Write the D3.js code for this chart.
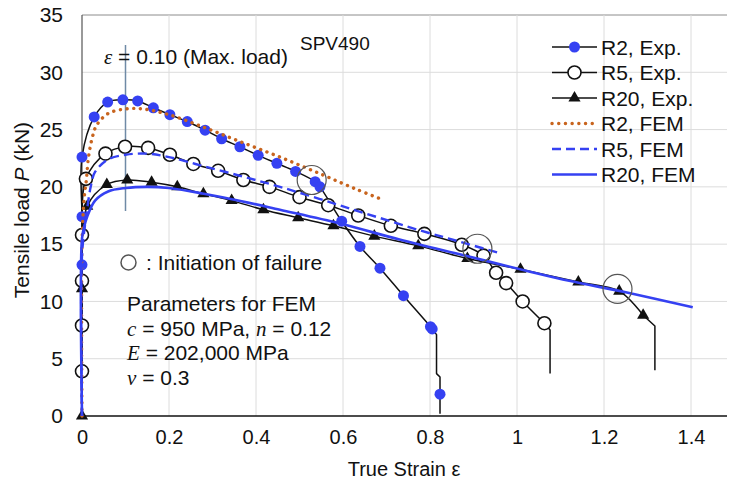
<!DOCTYPE html>
<html><head><meta charset="utf-8">
<script src="https://cdn.jsdelivr.net/npm/d3@7"></script>
<style>
html,body{margin:0;padding:0;background:#fff;}
svg text{font-family:"Liberation Sans",Arial,sans-serif;fill:#111;}
.it{font-family:"Liberation Serif","DejaVu Serif",serif;font-style:italic;}
</style></head>
<body>
<svg id="c" width="729" height="484"></svg>
<script>
// ---------- data ----------
const xTicks = [0, 0.2, 0.4, 0.6, 0.8, 1, 1.2, 1.4];
const yTicks = [0, 5, 10, 15, 20, 25, 30, 35];
const seriesNames = ["R2, Exp.", "R5, Exp.", "R20, Exp.", "R2, FEM", "R5, FEM", "R20, FEM"];

// experimental markers [strain, load]
const r2ExpMarks = [[0,13.2],[0,17.4],[0,22.6],[0.028,26.1],[0.059,27.4],[0.094,27.6],[0.128,27.5],[0.164,26.9],[0.202,26.3],[0.242,25.7],[0.283,24.95],[0.321,24.2],[0.363,23.5],[0.405,22.75],[0.448,22.05],[0.491,21.35],[0.536,20.45],[0.547,20.0],[0.597,17.0],[0.639,14.8],[0.685,12.9],[0.739,10.5],[0.801,7.8],[0.805,7.6],[0.823,1.9]];
const r2ExpHead = [[0,0]];
const r2ExpTail = [[0.805,7.6],[0.815,7.1],[0.815,3.7],[0.823,3.4],[0.823,0.2]];

const r5ExpMarks = [[0,3.9],[0,7.9],[0,11.8],[0,15.8],[0.009,20.7],[0.054,22.9],[0.099,23.5],[0.152,23.4],[0.202,22.8],[0.256,22.0],[0.313,21.4],[0.371,20.6],[0.431,20.0],[0.50,19.1],[0.566,18.4],[0.635,17.5],[0.71,16.6],[0.787,15.9],[0.873,14.95],[0.923,14.0],[0.952,12.5],[0.975,11.6],[1.013,10.0],[1.063,8.1]];
const r5ExpHead = [[0,0]];
const r5ExpTail = [[1.063,8.1],[1.076,7.5],[1.076,3.7]];

const r20ExpMarks = [[0,0],[0,11.1],[0.012,18.3],[0.057,20.2],[0.104,20.6],[0.160,20.4],[0.219,20.0],[0.279,19.4],[0.344,18.8],[0.417,18.0],[0.497,17.3],[0.578,16.6],[0.672,15.7],[0.773,14.85],[0.886,13.75],[1.008,12.8],[1.141,11.7],[1.235,10.9],[1.29,8.8]];
const r20ExpTail = [[1.29,8.8],[1.317,7.85],[1.317,4.0]];

// FEM curves
const r2Fem = [[0,0],[0,15],[0.005,19],[0.01,20.6],[0.015,22.6],[0.025,24.5],[0.034,25.4],[0.06,26.4],[0.1,26.8],[0.14,26.8],[0.2,26.3],[0.28,25.2],[0.36,24.0],[0.455,22.6],[0.55,21.1],[0.63,19.8],[0.693,18.85]];
const r5Fem = [[0,0],[0,14],[0.01,17.5],[0.02,20],[0.03,21.3],[0.06,22.4],[0.1,22.8],[0.15,22.9],[0.2,22.6],[0.28,21.8],[0.37,20.9],[0.455,20.0],[0.55,18.9],[0.65,17.7],[0.777,16.2],[0.87,15.2],[0.961,14.2]];
const r20Fem = [[0,0],[0,15.5],[0.005,16.5],[0.011,17.3],[0.03,18.8],[0.06,19.6],[0.1,19.9],[0.15,20.0],[0.2,19.9],[0.28,19.4],[0.367,18.75],[0.455,18.0],[0.593,16.8],[0.73,15.4],[0.88,14.0],[1.03,12.6],[1.12,11.8],[1.25,10.8],[1.404,9.5]];

// failure initiation points
const failurePts = [[0.528,20.6],[0.909,14.6],[1.231,11.1]];
const maxLoadStrain = 0.10;

// ---------- chart ----------
const svg = d3.select("#c");
const x = d3.scaleLinear().domain([0,1.4]).range([82,691]);
const y = d3.scaleLinear().domain([0,35]).range([416,15]);
const xR = 727;
const BLUE = "#3541f2", ORANGE = "#c8641e";

// gridlines
const g = svg.append("g");
g.selectAll(".hg").data(yTicks.filter(d=>d>0)).join("line")
  .attr("x1",x(0)).attr("x2",xR).attr("y1",d=>y(d)).attr("y2",d=>y(d))
  .attr("stroke",d=>d===35?"#8c8c8c":"#dcdcdc").attr("stroke-width",1);
g.selectAll(".vg").data(xTicks.filter(d=>d>0)).join("line")
  .attr("y1",y(0)).attr("y2",y(35)).attr("x1",d=>x(d)).attr("x2",d=>x(d))
  .attr("stroke","#dcdcdc").attr("stroke-width",1);
svg.append("line").attr("x1",x(0)).attr("x2",x(0)).attr("y1",y(0)).attr("y2",y(35)).attr("stroke","#555").attr("stroke-width",1.2);
svg.append("line").attr("x1",x(0)).attr("x2",xR).attr("y1",y(0)).attr("y2",y(0)).attr("stroke","#111").attr("stroke-width",1.3);

const ax = svg.append("g").attr("transform",`translate(0,${y(0)})`)
  .call(d3.axisBottom(x).tickValues(xTicks).tickSize(0).tickPadding(14).tickFormat(d=>String(d)));
ax.select(".domain").remove();
ax.selectAll("text").attr("font-size",20).attr("fill","#111");
const ay = svg.append("g").attr("transform",`translate(${x(0)},0)`)
  .call(d3.axisLeft(y).tickValues(yTicks).tickSize(0).tickPadding(19).tickFormat(d=>String(d)));
ay.select(".domain").remove();
ay.selectAll("text").attr("font-size",21).attr("fill","#111");

svg.append("text").attr("x",404).attr("y",476).attr("text-anchor","middle").attr("font-size",20).text("True Strain ε");
const yt = svg.append("text").attr("transform","translate(29,210) rotate(-90)").attr("text-anchor","middle").attr("font-size",21);
yt.append("tspan").text("Tensile load ");
yt.append("tspan").attr("font-style","italic").text("P");
yt.append("tspan").text(" (kN)");

svg.append("line").attr("x1",x(maxLoadStrain)).attr("x2",x(maxLoadStrain)).attr("y1",45).attr("y2",211)
  .attr("stroke","#6f8aa6").attr("stroke-width",1.5);

const line = d3.line().x(d=>x(d[0])).y(d=>y(d[1]));
const smooth = d3.line().x(d=>x(d[0])).y(d=>y(d[1])).curve(d3.curveCatmullRom.alpha(0.5));
function expLine(pts){ svg.append("path").attr("d",pts).attr("fill","none").attr("stroke","#111").attr("stroke-width",1.5).attr("stroke-linejoin","round"); }

const r2Main = r2ExpHead.concat(r2ExpMarks.filter(d=>d[1]>3 || d[0]<0.5));
expLine(smooth(r2Main.filter(d=>!(d[0]>0.81))));
expLine(line(r2ExpTail));
expLine(smooth(r5ExpHead.concat(r5ExpMarks)));
expLine(line(r5ExpTail));
expLine(smooth(r20ExpMarks));
expLine(line(r20ExpTail));

svg.selectAll(".m2").data(r2ExpMarks).join("circle").attr("cx",d=>x(d[0])).attr("cy",d=>y(d[1])).attr("r",5.5).attr("fill",BLUE);
svg.selectAll(".m5").data(r5ExpMarks).join("circle").attr("cx",d=>x(d[0])).attr("cy",d=>y(d[1])).attr("r",6.5).attr("fill","#fff").attr("stroke","#111").attr("stroke-width",1.6);
const tri = d3.symbol().type(d3.symbolTriangle).size(64);
svg.selectAll(".m20").data(r20ExpMarks).join("path").attr("d",tri).attr("transform",d=>`translate(${x(d[0])},${y(d[1])})`).attr("fill","#111");

svg.append("path").attr("d",smooth(r2Fem)).attr("fill","none").attr("stroke",ORANGE).attr("stroke-width",3.4).attr("stroke-linecap","round").attr("stroke-dasharray","0.1,6.6");
svg.append("path").attr("d",smooth(r5Fem)).attr("fill","none").attr("stroke",BLUE).attr("stroke-width",2.4).attr("stroke-dasharray","9,5");
svg.append("path").attr("d",smooth(r20Fem)).attr("fill","none").attr("stroke",BLUE).attr("stroke-width",2.6);

svg.selectAll(".fc").data(failurePts).join("circle").attr("cx",d=>x(d[0])).attr("cy",d=>y(d[1])).attr("r",14.5)
  .attr("fill","none").attr("stroke","#555").attr("stroke-width",1.2);

const lg = svg.append("g");
const rows = [47,72.5,98,123.5,149,174.5];
seriesNames.forEach((name,i)=>{
  const yy = rows[i];
  const l = lg.append("line").attr("x1",552).attr("x2",597).attr("y1",yy).attr("y2",yy);
  if(i<3) l.attr("stroke","#111").attr("stroke-width",1.5);
  if(i===0) lg.append("circle").attr("cx",574.5).attr("cy",yy).attr("r",5.5).attr("fill",BLUE);
  if(i===1) lg.append("circle").attr("cx",574.5).attr("cy",yy).attr("r",6.5).attr("fill","#fff").attr("stroke","#111").attr("stroke-width",1.6);
  if(i===2) lg.append("path").attr("d",tri).attr("transform",`translate(574.5,${yy})`).attr("fill","#111");
  if(i===3) l.attr("stroke",ORANGE).attr("stroke-width",3.4).attr("stroke-linecap","round").attr("stroke-dasharray","0.1,6.6");
  if(i===4) l.attr("stroke",BLUE).attr("stroke-width",2.4).attr("stroke-dasharray","9,5");
  if(i===5) l.attr("stroke",BLUE).attr("stroke-width",2.6);
  lg.append("text").attr("x",601).attr("y",yy+7.5).attr("font-size",21).text(name);
});

svg.append("text").attr("x",300).attr("y",50).attr("font-size",19).text("SPV490");
const et = svg.append("text").attr("x",104).attr("y",64).attr("font-size",21);
et.append("tspan").attr("class","it").text("ε");
et.append("tspan").text(" = 0.10 (Max. load)");

svg.append("circle").attr("cx",128.5).attr("cy",262.5).attr("r",7.5).attr("fill","none").attr("stroke","#555").attr("stroke-width",1.5);
svg.append("text").attr("x",146).attr("y",270).attr("font-size",21).text(": Initiation of failure");
svg.append("text").attr("x",127).attr("y",311).attr("font-size",21).text("Parameters for FEM");
const t1 = svg.append("text").attr("x",127).attr("y",336).attr("font-size",21);
t1.append("tspan").attr("class","it").text("c");
t1.append("tspan").text(" = 950 MPa, ");
t1.append("tspan").attr("class","it").text("n");
t1.append("tspan").text(" = 0.12");
const t2 = svg.append("text").attr("x",127).attr("y",360).attr("font-size",21);
t2.append("tspan").attr("class","it").text("E");
t2.append("tspan").text(" = 202,000 MPa");
const t3 = svg.append("text").attr("x",127).attr("y",385).attr("font-size",21);
t3.append("tspan").attr("class","it").text("ν");
t3.append("tspan").text(" = 0.3");
</script>
</body></html>
